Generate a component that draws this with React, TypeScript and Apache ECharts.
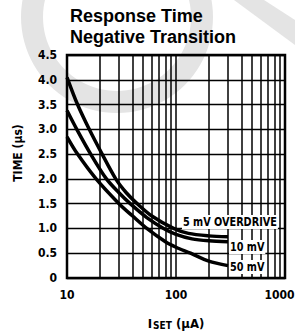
import React, { useEffect, useRef } from "react";
import * as echarts from "echarts";

const xMajorTicks = [10, 100, 1000];
const xMinorGrid = [20, 30, 40, 50, 60, 70, 80, 90, 200, 300, 400, 500, 600, 700, 800, 900];
const yTicks = [0, 0.5, 1.0, 1.5, 2.0, 2.5, 3.0, 3.5, 4.0, 4.5];

const od5mV: [number, number][] = [
  [10, 4.05], [12.5, 3.5], [16, 3.0], [21, 2.5], [28, 2.0], [35, 1.72], [44, 1.5],
  [60, 1.25], [95, 1.0], [130, 0.9], [200, 0.85], [300, 0.83],
];
const od10mV: [number, number][] = [
  [10, 3.38], [12.3, 3.0], [16.5, 2.5], [23, 2.0], [30, 1.72], [38, 1.5], [54, 1.22],
  [77, 1.0], [100, 0.88], [140, 0.79], [200, 0.75], [300, 0.73],
];
const od50mV: [number, number][] = [
  [10, 2.85], [12.5, 2.5], [18.5, 2.0], [30, 1.5], [40, 1.25], [54, 1.0], [80, 0.73],
  [100, 0.62], [136, 0.5], [200, 0.34], [300, 0.25],
];

const seriesLabels = ["5 mV OVERDRIVE", "10 mV", "50 mV"];

const FONT = "'DejaVu Sans Condensed', 'DejaVu Sans', sans-serif";

const labelText = (text: string, x: number, y: number) => ({
  type: "text",
  x,
  y,
  z: 50,
  scaleX: 0.9,
  style: {
    text,
    fontFamily: FONT,
    fontWeight: "bold",
    fontSize: 12,
    fill: "#000",
    align: "left",
    verticalAlign: "middle",
    backgroundColor: "#fff",
    padding: [1, 1, 1, 1],
  },
});

export default function App() {
  const ref = useRef<HTMLDivElement>(null);
  useEffect(() => {
    if (!ref.current) return;
    const chart = echarts.init(ref.current, null, { renderer: "svg" });
    const curveStyle = { color: "#000", width: 3.5 };
    chart.setOption({
      animation: false,
      backgroundColor: "#fff",
      title: {
        text: "Response Time\nNegative Transition",
        left: 70,
        top: 5,
        padding: 0,
        textStyle: {
          fontFamily: "'Liberation Sans', Arial, sans-serif",
          fontWeight: "bold",
          fontSize: 18,
          lineHeight: 21,
          color: "#000",
        },
      },
      grid: {
        left: 67,
        top: 55,
        width: 218,
        height: 223,
        show: true,
        containLabel: false,
        outerBoundsMode: "none",
        borderColor: "#000",
        borderWidth: 2.5,
        backgroundColor: "transparent",
      },
      xAxis: {
        type: "log",
        logBase: 10,
        min: xMajorTicks[0],
        max: xMajorTicks[xMajorTicks.length - 1],
        axisLine: { show: false },
        axisTick: { show: false },
        splitLine: { show: true, lineStyle: { color: "#000", width: 1.5 } },
        axisLabel: {
          margin: 11,
          color: "#000",
          fontFamily: FONT,
          fontWeight: "bold",
          fontSize: 12,
          formatter: (v: number) => (v >= 1000 ? "{last|" + v + "}" : String(v)),
          rich: {
            last: {
              fontFamily: FONT,
              fontWeight: "bold",
              fontSize: 12,
              color: "#000",
              padding: [0, 11, 0, 0],
            },
          },
        },
        name: "{a|I}{b|SET}{a| (µA)}",
        nameLocation: "middle",
        nameGap: 38,
        nameTextStyle: {
          rich: {
            a: { fontFamily: FONT, fontWeight: "bold", fontSize: 13, color: "#000" },
            b: { fontFamily: FONT, fontWeight: "bold", fontSize: 10, color: "#000", padding: [4, 0, 0, 1] },
          },
        },
      },
      yAxis: {
        type: "value",
        min: yTicks[0],
        max: yTicks[yTicks.length - 1],
        interval: 0.5,
        axisLine: { show: false },
        axisTick: { show: false },
        splitLine: { show: true, lineStyle: { color: "#000", width: 1.3 } },
        axisLabel: {
          margin: 10,
          color: "#000",
          fontFamily: FONT,
          fontWeight: "bold",
          fontSize: 12,
          formatter: (v: number) => (v === 0 ? "0" : v.toFixed(1)),
        },
      },
      graphic: [
        {
          type: "ring",
          z: -10,
          silent: true,
          shape: { cx: 117, cy: 17, r: 96, r0: 74 },
          style: { fill: "#e4e4e4" },
        },
        {
          type: "polygon",
          z: -10,
          silent: true,
          shape: { points: [[234, 0], [264, 0], [295, 20], [295, 45]] },
          style: { fill: "#e4e4e4" },
        },
        {
          type: "text",
          x: 18,
          y: 153,
          rotation: Math.PI / 2,
          z: 50,
          style: {
            text: "TIME (µs)",
            fontFamily: FONT,
            fontWeight: "bold",
            fontSize: 12,
            fill: "#000",
            align: "center",
            verticalAlign: "middle",
          },
        },
        labelText(seriesLabels[0], 182, 222),
        labelText(seriesLabels[1], 229, 247),
        labelText(seriesLabels[2], 229, 267),
      ],
      series: [
        {
          type: "line",
          name: seriesLabels[0],
          z: 10,
          data: od5mV,
          smooth: 0.3,
          showSymbol: false,
          lineStyle: curveStyle,
        },
        {
          type: "line",
          name: seriesLabels[1],
          z: 10,
          data: od10mV,
          smooth: 0.3,
          showSymbol: false,
          lineStyle: curveStyle,
        },
        {
          type: "line",
          name: seriesLabels[2],
          z: 10,
          data: od50mV,
          smooth: 0.3,
          showSymbol: false,
          lineStyle: curveStyle,
          markLine: {
            z: 1,
            silent: true,
            animation: false,
            symbol: ["none", "none"],
            label: { show: false },
            lineStyle: { color: "#000", width: 1.5, type: "solid" },
            emphasis: { disabled: true },
            data: xMinorGrid.map((v) => ({ xAxis: v })),
          },
        },
      ],
    });
    return () => chart.dispose();
  }, []);
  return (
    <div
      ref={ref}
      style={{ position: "fixed", left: 0, top: 0, width: 295, height: 331 }}
    />
  );
}
